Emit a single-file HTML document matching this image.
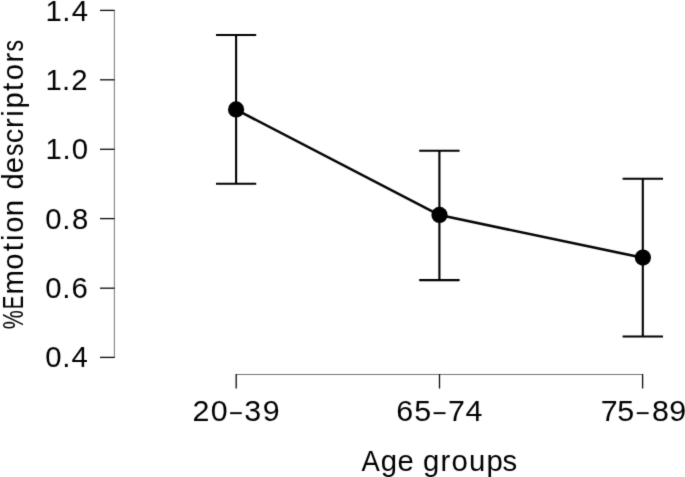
<!DOCTYPE html>
<html><head><meta charset="utf-8"><style>
html,body{margin:0;padding:0;background:#fff;width:685px;height:477px;overflow:hidden}
svg{display:block;filter:grayscale(1)}
text{font-family:"Liberation Sans",sans-serif;fill:#000}
</style></head><body>
<svg width="685" height="477" viewBox="0 0 685 477">
<defs><filter id="b" color-interpolation-filters="sRGB" x="0" y="0" width="685" height="477" filterUnits="userSpaceOnUse"><feConvolveMatrix order="3" kernelMatrix="0.01440 0.09120 0.01440 0.09120 0.57760 0.09120 0.01440 0.09120 0.01440" divisor="1" edgeMode="duplicate" preserveAlpha="true"/></filter></defs>
<g filter="url(#b)">
<rect width="685" height="477" fill="#fff"/>
<rect x="113.85" y="10" width="1" height="348" fill="#767676"/>
<g stroke="#0a0a0a" stroke-width="1.3" fill="none">
<line x1="100" y1="10.4" x2="114.6" y2="10.4"/>
<line x1="100" y1="79.8" x2="114.6" y2="79.8"/>
<line x1="100" y1="149.3" x2="114.6" y2="149.3"/>
<line x1="100" y1="218.6" x2="114.6" y2="218.6"/>
<line x1="100" y1="288.2" x2="114.6" y2="288.2"/>
<line x1="100" y1="357.4" x2="114.6" y2="357.4"/>
</g>
<rect x="236" y="374" width="407" height="1" fill="#767676"/>
<g stroke="#0a0a0a" stroke-width="1.3" fill="none">
<line x1="236.2" y1="374" x2="236.2" y2="388.5"/>
<line x1="439.5" y1="374" x2="439.5" y2="388.5"/>
<line x1="642.6" y1="374" x2="642.6" y2="388.5"/>
</g>
<g font-size="29.3">
<text x="45.55 62.28 71.70" y="20.5">1.4</text>
<text x="45.55 62.08 71.25" y="89.85">1.2</text>
<text x="45.55 62.43 71.80" y="159.2">1.0</text>
<text x="45.25 62.13 72.00" y="228.55">0.8</text>
<text x="45.25 62.33 71.50" y="297.9">0.6</text>
<text x="45.25 62.33 71.60" y="367.25">0.4</text>
</g>
<g font-size="30.4">
<text x="192.40 210.65 244.24 262.75" y="420.8">2039</text>
<text x="396.14 414.28 447.98 465.49" y="420.8">6574</text>
<text x="600.83 617.18 652.00 669.30" y="420.8">7589</text>
</g>
<g fill="#000">
<rect x="230.1" y="412.2" width="11.7" height="1.9"/>
<rect x="433.6" y="412.2" width="11.9" height="1.9"/>
<rect x="636.8" y="412.2" width="11.8" height="1.9"/>
</g>
<text font-size="29.3" x="380.78 397.53 415.00 422.93 440.49 451.45 468.92 486.47 502.55" y="471.05">ge groups</text>
<text font-size="29.3" transform="translate(361.40,471.05) scale(0.937,1)">A</text>
<g transform="rotate(-90)" font-size="29.3">
<text transform="translate(-51.39,22.5) scale(0.791,1)">s</text>
<text x="-62.51" y="22.5">r</text>
<text x="-80.35" y="22.5">o</text>
<text x="-90.98" y="22.5">t</text>
<text x="-108.43" y="22.5">p</text>
<text x="-116.65" y="22.5">i</text>
<text x="-127.91" y="22.5">r</text>
<text x="-143.21" y="22.5">c</text>
<text transform="translate(-156.04,22.5) scale(0.845,1)">s</text>
<text x="-173.32" y="22.5">e</text>
<text x="-189.57" y="22.5">d</text>
<text x="-216.27" y="22.5">n</text>
<text x="-232.80" y="22.5">o</text>
<text x="-241.05" y="22.5">i</text>
<text x="-251.23" y="22.5">t</text>
<text x="-269.65" y="22.5">o</text>
<text x="-294.46" y="22.5">m</text>
<text transform="translate(-309.33,22.5) scale(0.699,1)">E</text>
<text transform="translate(-329.37,22.5) scale(0.734,1)" x="0" y="0">%</text>
</g>
<polyline points="236.1,109.6 439.5,215.1 642.9,257.8" stroke="#050505" stroke-width="2.6" fill="none" stroke-linejoin="round"/>
<g stroke="#000" stroke-width="2.1" fill="none">
<line x1="236.1" y1="35" x2="236.1" y2="183.7"/>
<line x1="216" y1="35" x2="256.2" y2="35"/>
<line x1="216" y1="183.7" x2="256.2" y2="183.7"/>
<line x1="439.4" y1="150.7" x2="439.4" y2="280.15"/>
<line x1="419.2" y1="150.7" x2="459.6" y2="150.7"/>
<line x1="419.2" y1="280.15" x2="459.6" y2="280.15"/>
<line x1="642.8" y1="178.7" x2="642.8" y2="336.5"/>
<line x1="622.6" y1="178.7" x2="663" y2="178.7"/>
<line x1="622.6" y1="336.5" x2="663" y2="336.5"/>
</g>
<g fill="#000">
<circle cx="236.1" cy="109.45" r="8.1"/>
<circle cx="439.5" cy="214.9" r="8.1"/>
<circle cx="642.9" cy="257.6" r="8.1"/>
</g>
</g>
</svg>
</body></html>
